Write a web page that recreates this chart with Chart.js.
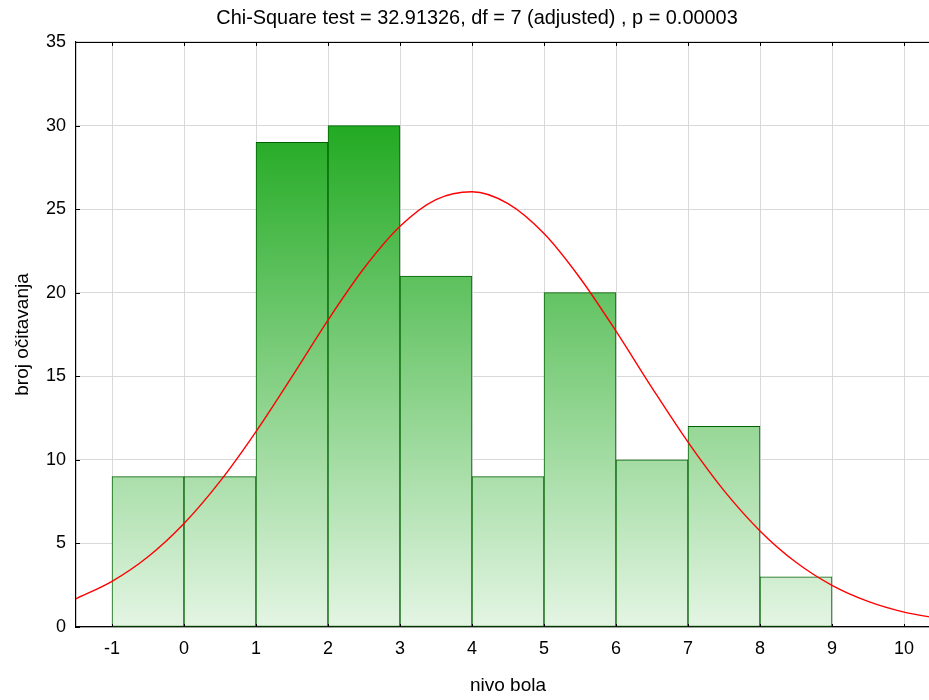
<!DOCTYPE html>
<html>
<head>
<meta charset="utf-8">
<script src="https://cdn.jsdelivr.net/npm/chart.js@4/dist/chart.umd.min.js"></script>
<style>
  html, body { margin: 0; padding: 0; background: #fff; overflow: hidden; }
  #wrap { width: 954px; height: 700px; position: relative; }
</style>
</head>
<body>
<div id="wrap"><canvas id="chart"></canvas></div>
<script>
// Histogram of pain level readings (bin width 1) with fitted normal curve
const binStarts = [-1, 0, 1, 2, 3, 4, 5, 6, 7, 8];
const counts    = [ 9, 9, 29, 30, 21, 9, 20, 10, 12, 3];

// Expected-normal curve, sampled every half unit
const curveX = [-1.5, -1, -0.5, 0, 0.5, 1, 1.5, 2, 2.5, 3, 3.5, 4, 4.5, 5, 5.5, 6, 6.5, 7, 7.5, 8, 8.5, 9, 9.5, 10, 10.5];
const curveY = [1.69, 2.73, 4.2, 6.19, 8.71, 11.69, 14.98, 18.36, 21.46, 23.97, 25.57, 26.04, 25.33, 23.54, 20.88, 17.7, 14.31, 11.06, 8.16, 5.75, 3.87, 2.49, 1.53, 0.89, 0.5];

const xTicks = [-1, 0, 1, 2, 3, 4, 5, 6, 7, 8, 9, 10];
const yTicks = [0, 5, 10, 15, 20, 25, 30, 35];

const titleText = 'Chi-Square test = 32.91326, df = 7 (adjusted) , p = 0.00003';
const xTitle = 'nivo bola';
const yTitle = 'broj očitavanja';

const FONT = '"Liberation Sans", Arial, sans-serif';

const barData = binStarts.map((s, i) => ({ x: s + 0.5, y: counts[i] }));
const curveData = curveX.map((x, i) => ({ x: x, y: curveY[i] }));

function barFill(context) {
  const chart = context.chart;
  const area = chart.chartArea;
  if (!area) return '#55bb55';
  const ys = chart.scales.y;
  const top = ys.getPixelForValue(Math.max(...counts));
  const bottom = ys.getPixelForValue(0);
  const g = chart.ctx.createLinearGradient(0, top, 0, bottom);
  g.addColorStop(0, 'rgb(34,170,34)');
  g.addColorStop(1, 'rgb(228,245,228)');
  return g;
}

// Frame line along the top and short inward tick marks
const frame = {
  id: 'frame',
  afterDraw(chart) {
    const { ctx, chartArea: a, scales } = chart;
    ctx.save();
    ctx.strokeStyle = '#000';
    ctx.lineWidth = 1.2;
    ctx.beginPath();
    ctx.moveTo(a.left, a.top + 0.5);
    ctx.lineTo(a.right, a.top + 0.5);
    ctx.stroke();
    ctx.lineWidth = 1;
    ctx.beginPath();
    scales.x.ticks.forEach(t => {
      const px = Math.round(scales.x.getPixelForValue(t.value)) + 0.5;
      ctx.moveTo(px, a.top); ctx.lineTo(px, a.top + 4);
      ctx.moveTo(px, a.bottom); ctx.lineTo(px, a.bottom - 3);
    });
    scales.y.ticks.forEach(t => {
      const py = Math.round(scales.y.getPixelForValue(t.value)) + 0.5;
      ctx.moveTo(a.left, py); ctx.lineTo(a.left + 4, py);
    });
    ctx.stroke();
    ctx.restore();
  }
};

new Chart(document.getElementById('chart'), {
  data: {
    datasets: [
      {
        type: 'line',
        data: curveData,
        borderColor: '#ff0000',
        borderWidth: 1.4,
        pointRadius: 0,
        fill: false,
        cubicInterpolationMode: 'monotone',
        order: 0
      },
      {
        type: 'bar',
        data: barData,
        backgroundColor: barFill,
        borderColor: '#006000',
        borderWidth: 1,
        borderSkipped: false,
        barPercentage: 1,
        categoryPercentage: 1,
        order: 1
      }
    ]
  },
  options: {
    responsive: true,
    maintainAspectRatio: false,
    animation: false,
    layout: { padding: { left: 14, right: 14, top: 0, bottom: 0 } },
    plugins: {
      legend: { display: false },
      tooltip: { enabled: false },
      title: {
        display: true,
        text: titleText,
        color: '#000',
        font: { family: FONT, size: 19.9, weight: 'normal', lineHeight: 1.2 },
        padding: { top: 6.1, bottom: 12 }
      }
    },
    scales: {
      x: {
        type: 'linear',
        min: -1.5,
        max: 10.5,
        offset: false,
        afterBuildTicks(scale) { scale.ticks = xTicks.map(v => ({ value: v })); },
        afterFit(scale) { scale.height = 73; },
        grid: { color: '#d9d9d9', lineWidth: 1, drawTicks: false, offset: false },
        border: { display: true, color: '#000', width: 1.2 },
        ticks: { color: '#000', padding: 11, font: { family: FONT, size: 18 }, maxRotation: 0 },
        title: {
          display: true,
          text: xTitle,
          color: '#000',
          font: { family: FONT, size: 19, lineHeight: 1.2 },
          padding: { top: 0, bottom: 2.6 }
        }
      },
      y: {
        type: 'linear',
        min: 0,
        max: 35,
        afterBuildTicks(scale) { scale.ticks = yTicks.map(v => ({ value: v })); },
        afterFit(scale) { scale.width = 62; },
        grid: { color: '#d9d9d9', lineWidth: 1, drawTicks: false },
        border: { display: true, color: '#000', width: 1.2 },
        ticks: { color: '#000', padding: 10, font: { family: FONT, size: 18 } },
        title: {
          display: true,
          text: yTitle,
          color: '#000',
          font: { family: FONT, size: 19, lineHeight: 0.9 },
          padding: { top: 0.45, bottom: 0 }
        }
      }
    }
  },
  plugins: [frame]
});
</script>
</body>
</html>
